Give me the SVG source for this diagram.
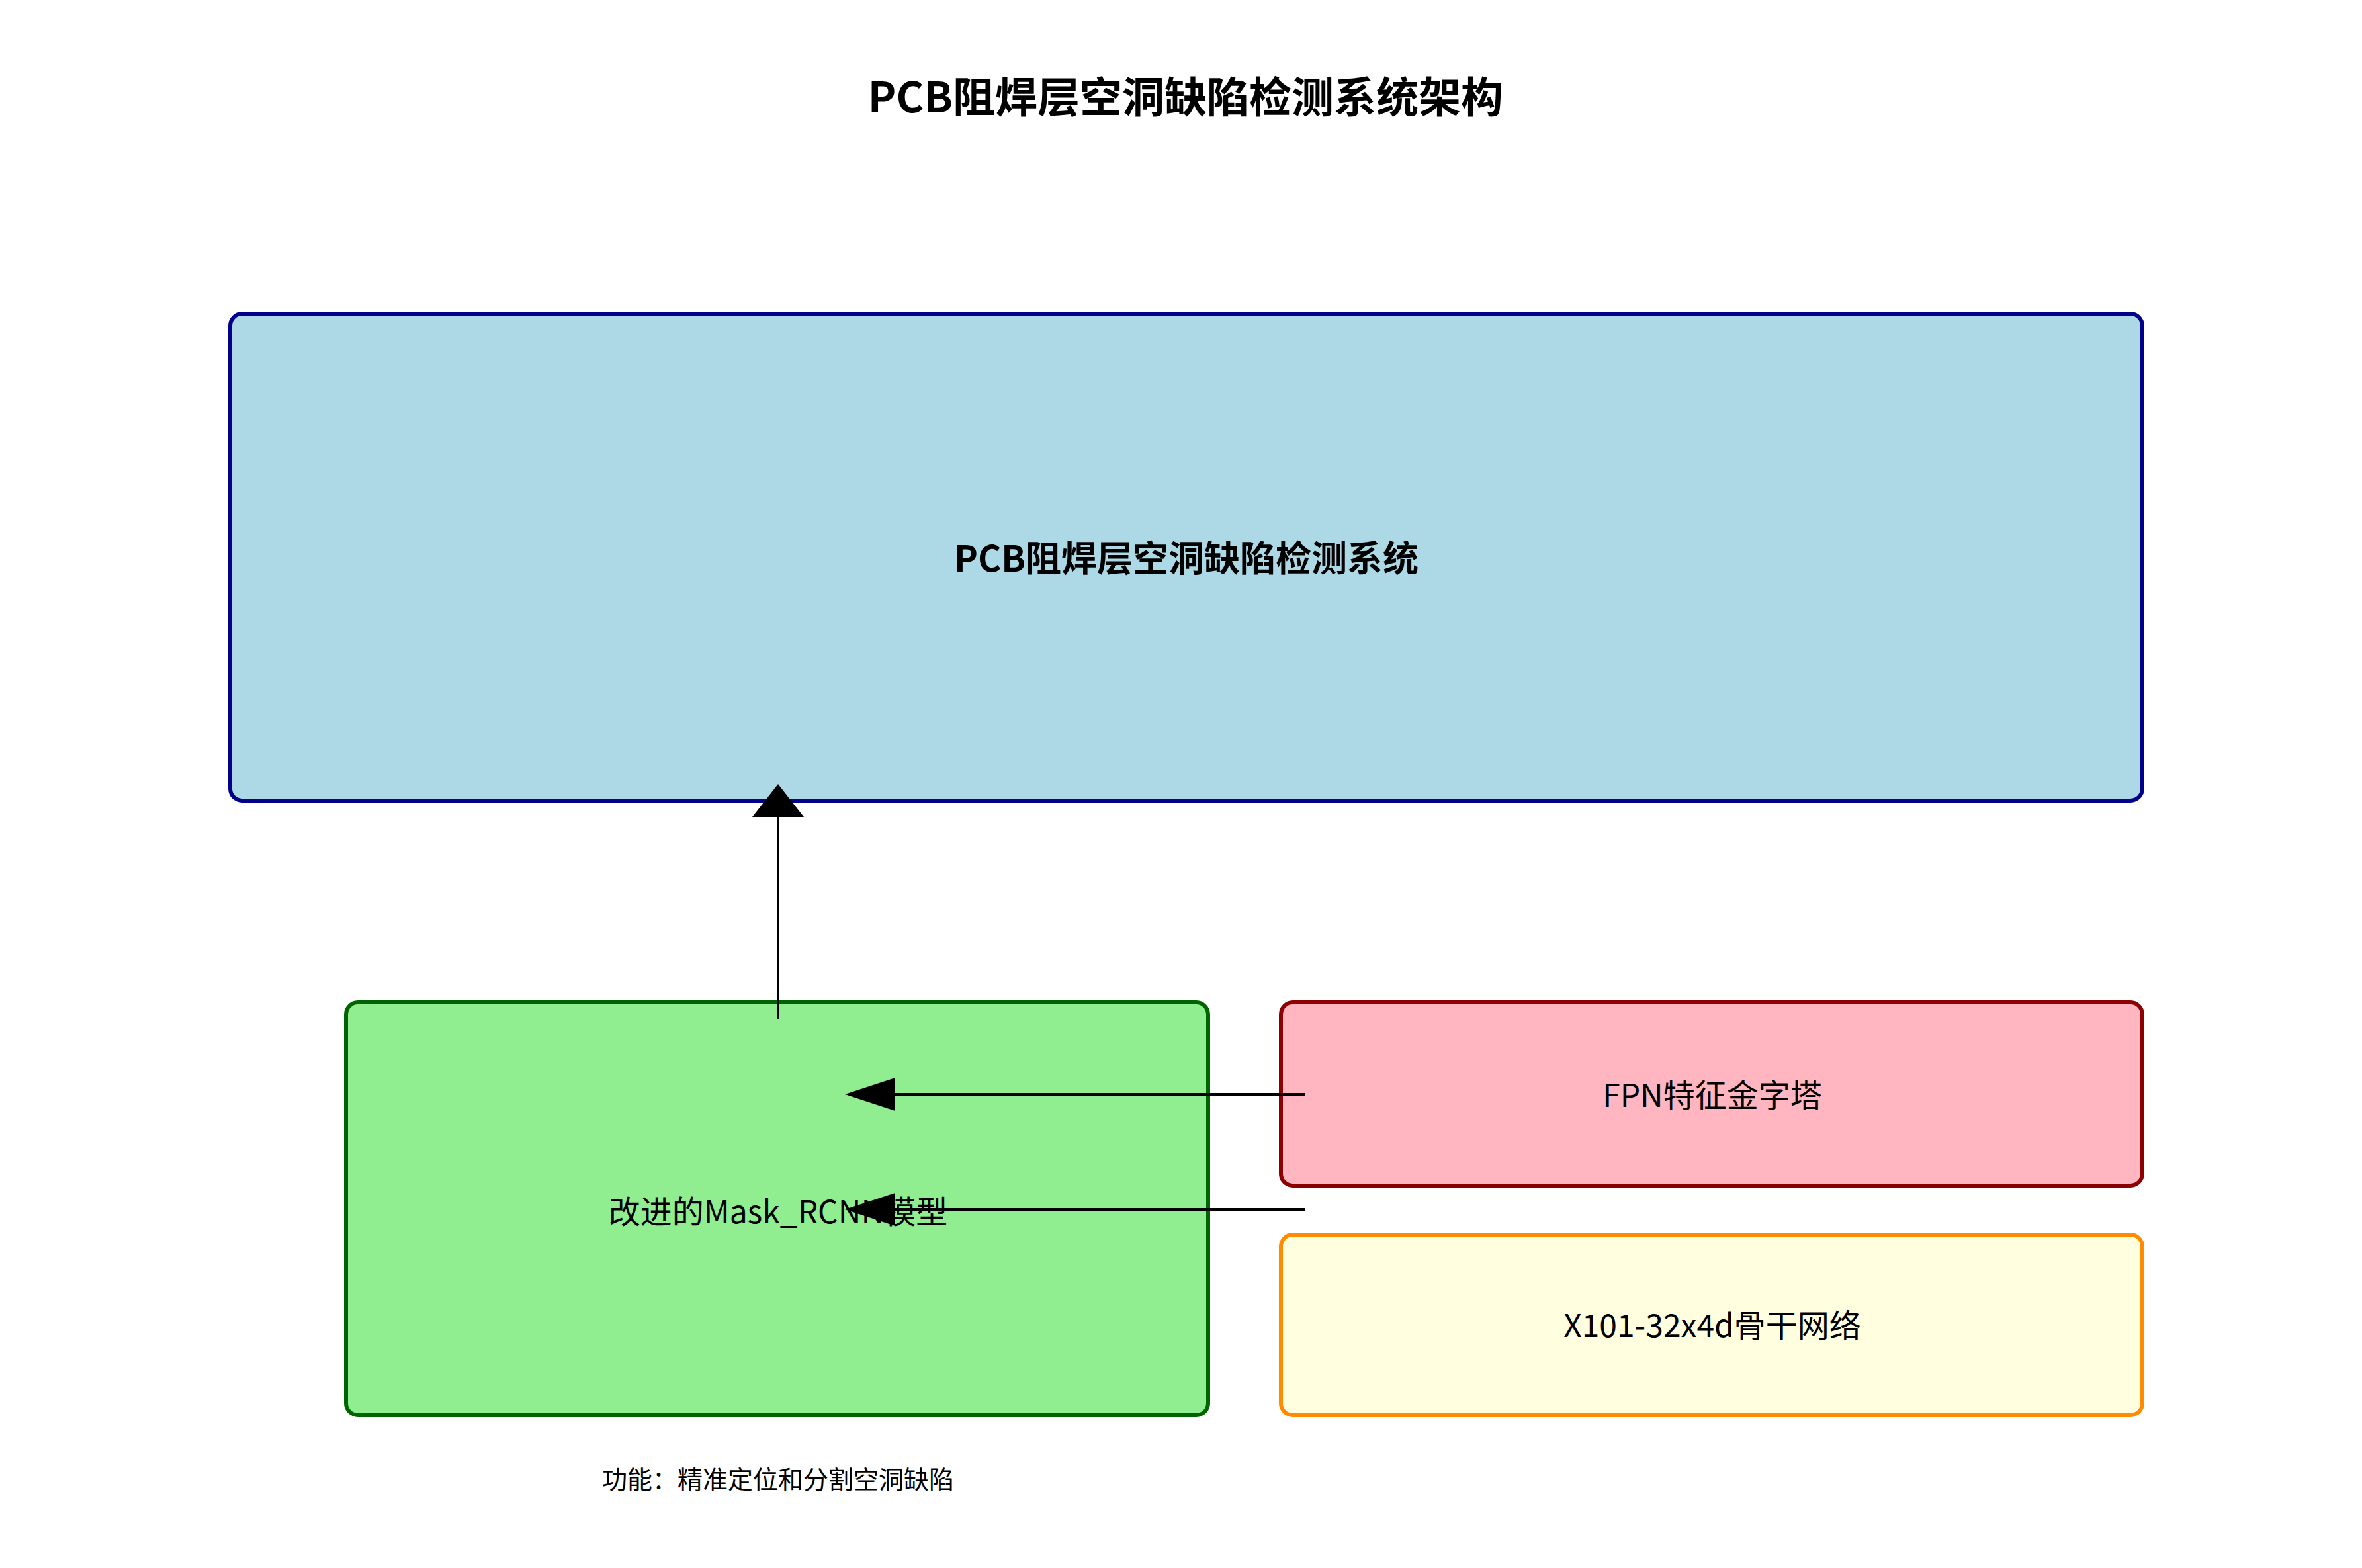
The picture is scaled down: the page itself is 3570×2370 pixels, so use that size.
<svg xmlns="http://www.w3.org/2000/svg" width="3570" height="2370" viewBox="0 0 3570 2370">
<style>
text{font-family:"Noto Sans CJK SC","Noto Sans",sans-serif;text-anchor:middle;dominant-baseline:central;fill:#000}
.b{stroke-width:6}
.c{stroke:#000;stroke-width:4;fill:none}
</style>
<rect width="3570" height="2370" fill="#fff"/>
<text x="1792" y="142" font-size="64" font-weight="bold">PCB阻焊层空洞缺陷检测系统架构</text>
<g id="system"><rect class="b" x="348" y="474" width="2890" height="736" rx="18" fill="#add8e6" stroke="#00008b"/>
<text x="1793" y="840" font-size="54" font-weight="bold">PCB阻焊层空洞缺陷检测系统</text></g>
<g id="maskrcnn"><rect class="b" x="523" y="1515" width="1303" height="624" rx="18" fill="#90ee90" stroke="#006400"/>
<text x="1176" y="1828" font-size="48">改进的Mask_RCNN模型</text></g>
<g id="fpn"><rect class="b" x="1936" y="1515" width="1302" height="277" rx="18" fill="#ffb6c1" stroke="#8b0000"/>
<text x="2588" y="1652" font-size="48">FPN特征金字塔</text></g>
<g id="backbone"><rect class="b" x="1936" y="1866" width="1302" height="273" rx="18" fill="#ffffe0" stroke="#ff8c00"/>
<text x="2588" y="2000" font-size="48">X101-32x4d骨干网络</text></g>
<text x="1176" y="2233" font-size="38">功能：精准定位和分割空洞缺陷</text>
<g id="connectors">
<line class="c" x1="1176" y1="1540" x2="1176" y2="1230"/>
<polygon points="1176,1185 1137,1235 1215,1235"/>
<line class="c" x1="1972" y1="1654" x2="1340" y2="1654"/>
<polygon points="1277,1654 1353,1629 1353,1679"/>
<line class="c" x1="1972" y1="1828" x2="1340" y2="1828"/>
<polygon points="1277,1828 1353,1803 1353,1853"/>
</g>
</svg>
